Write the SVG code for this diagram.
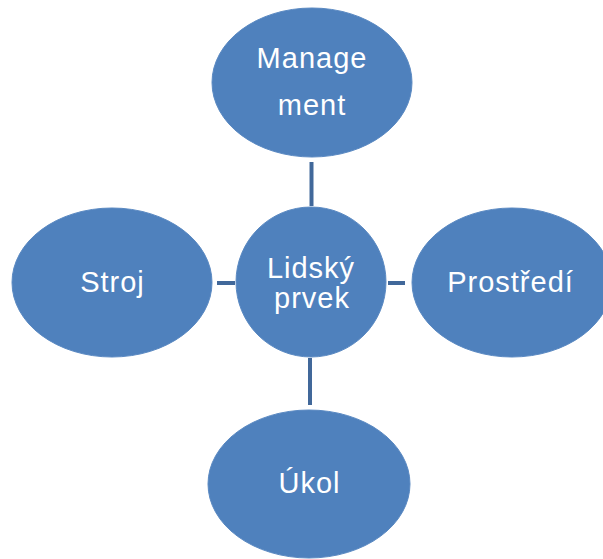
<svg xmlns="http://www.w3.org/2000/svg" width="603" height="559" viewBox="0 0 603 559">
<style>
.n{fill:#4f81bd;stroke:#5a89c2;stroke-width:1}
.t{fill:#ffffff;font-family:"Liberation Sans",Arial,sans-serif;font-size:29px;letter-spacing:1px;text-anchor:middle}
.c{stroke:#41689a;stroke-width:4;fill:none}
</style>
<rect width="603" height="559" fill="#ffffff"/>
<g id="connectors">
<line class="c" x1="311.5" y1="162" x2="311.5" y2="206"/>
<line class="c" x1="217" y1="283" x2="235" y2="283"/>
<line class="c" x1="388" y1="283" x2="405" y2="283"/>
<line class="c" x1="310" y1="358" x2="310" y2="405"/>
</g>
<g id="management">
<ellipse class="n" cx="312" cy="82.5" rx="100" ry="74.5"/>
<text class="t" x="312" y="68">Manage</text>
<text class="t" x="312" y="115">ment</text>
</g>
<g id="lidsky-prvek">
<circle class="n" cx="311" cy="282" r="75"/>
<text class="t" x="311" y="278">Lidský</text>
<text class="t" x="312" y="308">prvek</text>
</g>
<g id="stroj">
<ellipse class="n" cx="112" cy="282.5" rx="100" ry="74.5"/>
<text class="t" x="112.5" y="292">Stroj</text>
</g>
<g id="prostredi">
<ellipse class="n" cx="512" cy="282.5" rx="100" ry="74.5"/>
<text class="t" x="510.5" y="292">Prostředí</text>
</g>
<g id="ukol">
<ellipse class="n" cx="309" cy="484" rx="101" ry="74"/>
<text class="t" x="309.5" y="493">Úkol</text>
</g>
</svg>
